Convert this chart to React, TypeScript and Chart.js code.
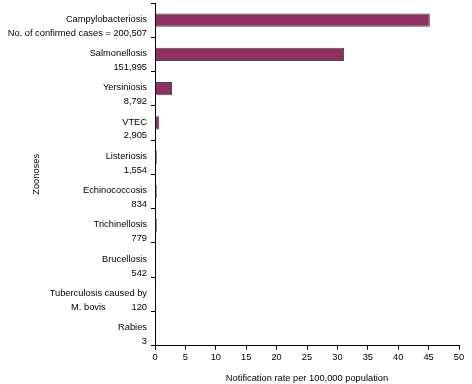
import React, { useEffect, useRef } from "react";
import { Chart, registerables } from "chart.js";

Chart.register(...registerables);

const categories: string[][] = [
  ["Campylobacteriosis", "No. of confirmed cases = 200,507"],
  ["Salmonellosis", "151,995"],
  ["Yersiniosis", "8,792"],
  ["VTEC", "2,905"],
  ["Listeriosis", "1,554"],
  ["Echinococcosis", "834"],
  ["Trichinellosis", "779"],
  ["Brucellosis", "542"],
  ["Tuberculosis caused by", "M. bovis          120"],
  ["Rabies", "3"],
];
const rates: number[] = [45.2, 31.1, 2.8, 0.7, 0.3, 0.3, 0.3, 0.1, 0.03, 0];
const xTicks: number[] = [0, 5, 10, 15, 20, 25, 30, 35, 40, 45, 50];

export default function App() {
  const ref = useRef<HTMLCanvasElement | null>(null);
  useEffect(() => {
    document.body.style.margin = "0";
    const ctx = ref.current!;
    const family = "'Liberation Sans', Arial, sans-serif";
    const font = { family, size: 9.3 };
    const chart = new Chart(ctx, {
      type: "bar",
      data: {
        labels: categories,
        datasets: [
          {
            data: rates,
            backgroundColor: "#8E3162",
            borderColor: "#4A4A4A",
            borderWidth: 1,
            barPercentage: 0.39,
            categoryPercentage: 1,
          },
        ],
      },
      options: {
        indexAxis: "y",
        animation: false,
        responsive: false,
        maintainAspectRatio: false,
        layout: { padding: { left: 0, top: 3, right: 13, bottom: 0 } },
        plugins: { legend: { display: false }, tooltip: { enabled: false } },
        scales: {
          x: {
            type: "linear",
            min: 0,
            max: 50,
            afterBuildTicks: (s: any) => {
              s.ticks = xTicks.map((v) => ({ value: v }));
            },
            ticks: { font, color: "#000", padding: 2 },
            border: { color: "#000", width: 1 },
            grid: {
              drawOnChartArea: false,
              drawTicks: true,
              tickLength: 4,
              color: "#000",
            },
            title: {
              display: true,
              text: "Notification rate per 100,000 population",
              font,
              color: "#000",
              padding: { top: 8, bottom: 0 },
            },
          },
          y: {
            type: "category",
            afterFit: (s: any) => {
              s.width = 155;
              s.paddingTop = 0;
              s.paddingBottom = 0;
            },
            ticks: {
              font: { family, size: 9.3, lineHeight: 1.5 },
              color: "#000",
              padding: 4,
              labelOffset: 6,
              autoSkip: false,
            },
            border: { color: "#000", width: 1 },
            grid: {
              offset: true,
              drawOnChartArea: false,
              drawTicks: true,
              tickLength: 4,
              color: "#000",
            },
            title: {
              display: true,
              text: "Zoonoses",
              font,
              color: "#000",
              padding: { top: 31, bottom: 0 },
            },
          },
        },
      },
    } as any);
    return () => chart.destroy();
  }, []);
  return (
    <div style={{ width: 472, height: 384 }}>
      <canvas ref={ref} width={472} height={384} style={{ display: "block" }} />
    </div>
  );
}
